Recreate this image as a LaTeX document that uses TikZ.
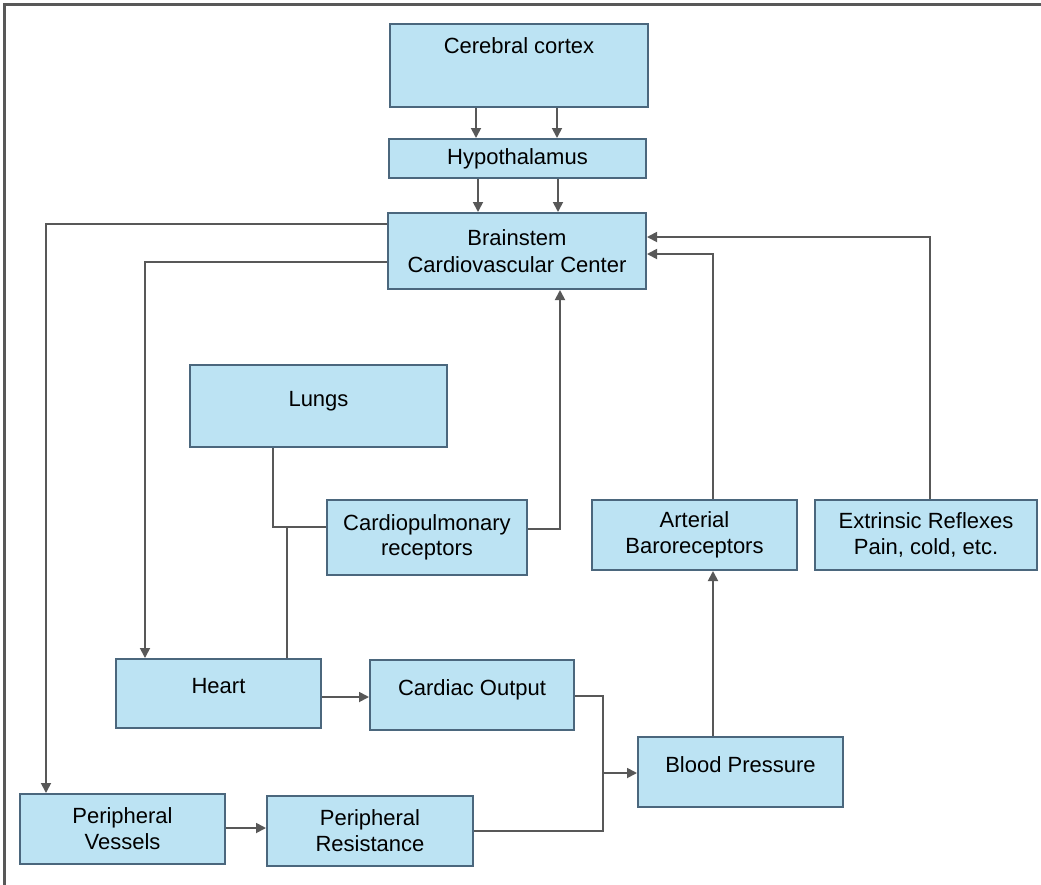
\documentclass[tikz,border=0pt]{standalone}
\usepackage{fontspec}
\setmainfont{Liberation Sans}
\usetikzlibrary{arrows.meta}
\definecolor{boxfill}{HTML}{BCE3F3}
\definecolor{boxline}{HTML}{4B677D}
\definecolor{wire}{HTML}{585858}
\tikzset{
	box/.style={draw=boxline, fill=boxfill, line width=1pt, inner sep=0pt, align=center,
		font=\fontsize{11}{13}\selectfont},
	raised/.style={text height=8pt, text depth=8pt},
	arr/.style={draw=wire, line width=0.9pt, -{Triangle[length=5pt,width=5pt]}},
	wire/.style={draw=wire, line width=0.9pt}
}
\begin{document}
\begin{tikzpicture}[x=0.5pt, y=-0.5pt]
				\useasboundingbox (0,0) rectangle (1041,885);
				\draw[wire, line width=1.2pt] (4.5,885) -- (4.5,4.5) -- (1041,4.5);
				\node[box, minimum width=129pt, minimum height=41.5pt, text height=8pt, text depth=20pt] (cortex) at (519,65.5) {Cerebral cortex};
				\node[box, minimum width=128.5pt, minimum height=19.5pt] (hypo) at (517.5,158.5) {Hypothalamus};
				\node[box, minimum width=129pt, minimum height=38pt, font=\fontsize{11}{13.5}\selectfont] (brain) at (517,251) {Brainstem\\Cardiovascular Center};
				\node[box, raised, minimum width=128.5pt, minimum height=41pt] (lungs) at (318.5,406) {Lungs};
				\node[box, minimum width=100pt, minimum height=37.5pt, font=\fontsize{11}{12.5}\selectfont] (cardiopulm) at (427,537.5) {Cardiopulmonary\\receptors};
				\node[box, minimum width=102.5pt, minimum height=35pt] (baro) at (694.5,535) {Arterial\\Baroreceptors};
				\node[box, minimum width=111pt, minimum height=35pt] (extr) at (926,535) {Extrinsic Reflexes\\Pain, cold, etc.};
				\node[box, raised, minimum width=102.5pt, minimum height=34.5pt] (heart) at (218.5,693.5) {Heart};
				\node[box, raised, minimum width=102pt, minimum height=35pt] (cardout) at (472,695) {Cardiac Output};
				\node[box, raised, minimum width=102.5pt, minimum height=35pt] (bp) at (740.5,772) {Blood Pressure};
				\node[box, minimum width=102.5pt, minimum height=35pt] (pvess) at (122.5,829) {Peripheral\\Vessels};
				\node[box, minimum width=103pt, minimum height=35pt] (pres) at (370,831) {Peripheral\\Resistance};
				% junctions
				\coordinate (jn) at (287,527);
				\coordinate (mg) at (603,773);
				% top chain
				\draw[arr] (cortex.south -| 476,0) to (hypo.north -| 476,0);
				\draw[arr] (cortex.south -| 557,0) to (hypo.north -| 557,0);
				\draw[arr] (hypo.south -| 478,0) to (brain.north -| 478,0);
				\draw[arr] (hypo.south -| 558,0) to (brain.north -| 558,0);
				% outputs of the brainstem
				\draw[arr] (brain.west |- 0,224) -| (pvess.north -| 46,0);
				\draw[arr] (brain.west |- 0,262) -| (heart.north -| 145,0);
				% inputs to the brainstem
				\draw[arr] (cardiopulm.east |- 0,529) -| (brain.south -| 560,0);
				\draw[arr] (baro.north -| 713,0) |- (brain.east |- 0,254);
				\draw[arr] (extr.north -| 930,0) |- (brain.east |- 0,237);
				% lungs and heart
				\draw[wire] (lungs.south -| 273,0) |- (cardiopulm.west |- jn);
				\draw[wire] (heart.north -| jn) to (jn);
				% bottom
				\draw[arr] (heart.east |- 0,697) to (cardout.west |- 0,697);
				\draw[arr] (pvess.east |- 0,828) to (pres.west |- 0,828);
				\draw[wire] (cardout.east |- 0,696) -| (mg);
				\draw[wire] (pres.east |- 0,831) -| (mg);
				\draw[arr] (mg) to (bp.west |- mg);
				\draw[arr] (bp.north -| 713,0) to (baro.south -| 713,0);
			\end{tikzpicture}
\end{document}
